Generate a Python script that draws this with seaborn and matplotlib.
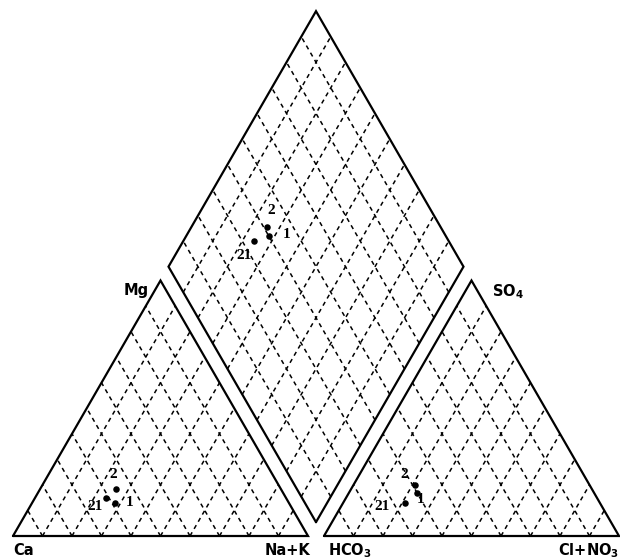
import numpy as np
import pandas as pd
import matplotlib
matplotlib.use("Agg")
import matplotlib.pyplot as plt
import seaborn as sns

# Sample identifiers and major-ion composition (% meq)
samples = ["1", "2", "21"]
ca = [59, 56, 61]
mg = [13, 18.5, 15]
na_k = [28, 25.5, 24]
hco3 = [60, 59, 66]
so4 = [17, 20, 13]
cl_no3 = [23, 21, 21]

sns.set_theme(style="white")
plt.rcParams["font.family"] = ["DejaVu Sans"]
plt.rcParams["text.color"] = "black"

H = np.sqrt(3) / 2
GAP = 16 / 295          # gap between the two base triangles (side = 1)
PX = 295                # pixels per unit side

df = pd.DataFrame({"sample": samples, "ca": ca, "mg": mg, "na_k": na_k,
                   "hco3": hco3, "so4": so4, "cl": cl_no3})

# Cation triangle (Ca left, Na+K right, Mg top)
df["cx"] = df["na_k"] / 100 + df["mg"] / 200
df["cy"] = df["mg"] / 100 * H
# Anion triangle (HCO3 left, Cl+NO3 right, SO4 top)
df["ax"] = 1 + GAP + df["cl"] / 100 + df["so4"] / 200
df["ay"] = df["so4"] / 100 * H
# Projection into the central diamond
t = (df["ax"] - df["cx"]) + (df["so4"] - df["mg"]) / 200
df["dx"] = df["cx"] + 0.5 * t
df["dy"] = df["cy"] + H * t

fig = plt.figure(figsize=(6.2, 5.59), dpi=100)
ax = fig.add_axes([0, 0, 1, 1])
ax.set_xlim(-13 / PX, (620 - 13) / PX)
ax.set_ylim(-23 / PX, 536 / PX)
ax.set_aspect("equal")
ax.axis("off")

solid = dict(color="black", lw=1.6, solid_joinstyle="miter")
dashed = dict(color="black", lw=1.1, dashes=(2.8, 2.6))


def tri_grid(p0, p1, p2):
    p0, p1, p2 = map(np.asarray, (p0, p1, p2))
    ax.plot(*np.array([p0, p1, p2, p0]).T, **solid)
    for i in range(1, 10):
        f = i / 10
        a = p0 + f * (p1 - p0)
        b = a + (1 - f) * (p2 - p0)
        ax.plot([a[0], b[0]], [a[1], b[1]], **dashed)
        c = p0 + f * (p2 - p0)
        ax.plot([a[0], c[0]], [a[1], c[1]], **dashed)


def diamond_grid(b, l, t_, r):
    b, l, t_, r = map(np.asarray, (b, l, t_, r))
    ax.plot(*np.array([b, l, t_, r, b]).T, **solid)
    for i in range(1, 10):
        f = i / 10
        a = b + f * (r - b)
        ax.plot([a[0], a[0] + (l - b)[0]], [a[1], a[1] + (l - b)[1]], **dashed)
        c = b + f * (l - b)
        ax.plot([c[0], c[0] + (r - b)[0]], [c[1], c[1] + (r - b)[1]], **dashed)


ca_v, nak_v, mg_v = (0, 0), (1, 0), (0.5, H)
hco3_v, cl_v, so4_v = (1 + GAP, 0), (2 + GAP, 0), (1.5 + GAP, H)
d_bot = np.array([1 + GAP / 2, GAP * H])
d_left = d_bot + np.array([-0.5, H])
d_right = d_bot + np.array([0.5, H])
d_top = d_bot + np.array([0, 2 * H])

tri_grid(ca_v, nak_v, mg_v)
tri_grid(hco3_v, cl_v, so4_v)
diamond_grid(d_bot, d_left, d_top, d_right)

for xcol, ycol in (("cx", "cy"), ("ax", "ay"), ("dx", "dy")):
    sns.scatterplot(data=df, x=xcol, y=ycol, color="black", s=22,
                    edgecolor="black", linewidth=0, ax=ax, zorder=5)

# sample number placement (pixel offsets) for each panel
offsets = {
    "c": {"1": (15, 0), "2": (-2, 14), "21": (-11, -9)},
    "a": {"1": (4, -7), "2": (-11, 10), "21": (-23, -4)},
    "d": {"1": (18, 2), "2": (5, 17), "21": (-10, -14)},
}
num_font = dict(family="Liberation Serif", fontweight="bold", fontsize=11)
for _, row in df.iterrows():
    for key, (xc, yc) in (("c", ("cx", "cy")), ("a", ("ax", "ay")),
                          ("d", ("dx", "dy"))):
        ax.annotate(row["sample"], (row[xc], row[yc]),
                    xytext=offsets[key][row["sample"]],
                    textcoords="offset pixels", ha="center", va="center",
                    color="black", **num_font)

lab = dict(fontsize=10.5, fontweight="bold", textcoords="offset pixels",
           va="baseline", color="black")
ax.annotate("Mg", mg_v, xytext=(-12, -14), ha="right", **lab)
ax.annotate("Ca", ca_v, xytext=(0, -19), ha="left", **lab)
ax.annotate("Na+K", nak_v, xytext=(2, -19), ha="right", **lab)
ax.annotate(r"HCO$_\mathbf{3}$", hco3_v, xytext=(4, -19), ha="left", **lab)
ax.annotate(r"SO$_\mathbf{4}$", so4_v, xytext=(21, -16), ha="left", **lab)
ax.annotate(r"Cl+NO$_\mathbf{3}$", cl_v, xytext=(0, -19), ha="right",
            annotation_clip=False, **lab)

fig.savefig("out.png", dpi=100)
